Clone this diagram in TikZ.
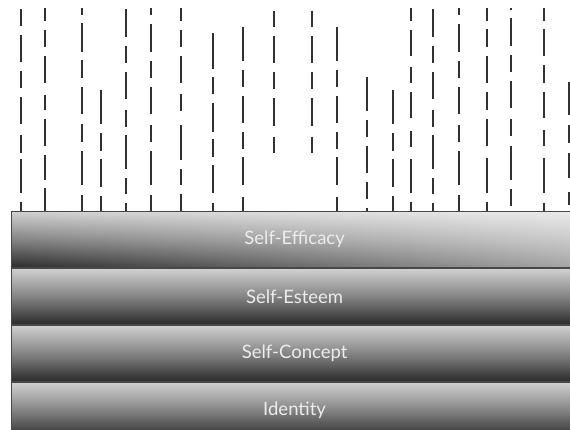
\documentclass[tikz,border=0pt]{standalone}
\usepackage{fontspec}
\newfontfamily\layerfont{Lato}
\usetikzlibrary{fadings}
\definecolor{dashgray}{RGB}{50,50,50}
\definecolor{edgegray}{RGB}{72,72,72}
\definecolor{toplight}{RGB}{208,208,208}
\definecolor{midgray}{RGB}{132,132,132}
\definecolor{botdark}{RGB}{44,44,44}
\definecolor{labeltext}{RGB}{236,236,236}

\begin{document}
\begin{tikzpicture}[x=1pt,y=-1pt,
  dashseg/.style={draw=dashgray,line width=1.8pt},
  layer/.style={draw=edgegray,line width=1.2pt,anchor=north west,minimum width=566pt,minimum height=55.7pt,inner sep=0pt,
    font=\layerfont\fontsize{18.5}{22}\selectfont,text=labeltext,
    top color=toplight,bottom color=botdark,middle color=midgray},
  glow/.style={path picture={\fill[white,opacity=.58,path fading=west] (path picture bounding box.south west) rectangle (path picture bounding box.north east);}}]
\useasboundingbox (0,0) rectangle (570,429);
\clip (0,0) rectangle (570,429);
\fill[white] (0,0) rectangle (570,429);
\foreach \x/\segs in {
  20.7/{9.3/26,35/61.7,71/88.3,96.7/124.3,135/153.3,159.3/193.3,201.7/211},
  44.7/{8.3/20.7,30/47.3,56/82.7,95/110,119.3/145.7,155/180,188.3/211},
  82.3/{8.3/15,23.3/51.7,60/78.3,86.7/114.3,124/141.7,151/185,195/211},
  100.7/{90/124,133.3/150.7,159.3/186.7,196/211},
  125.7/{9.3/36.7,46/62.7,71.7/99.3,110/126.7,135/169.3,178.3/194.3,203.3/211},
  151/{8.3/15,24/51.7,61/77.7,86.7/114,125/141.7,151/185,195/211},
  181.3/{8.3/20.7,30/46.7,56/83.3,94.3/110.7,125/160,169/185,194/211},
  212.7/{33.3/69.3,77.3/94,103.3/131.7,139.3/156.7,165/192.7,203.3/211},
  242.7/{26.7/61,70/86.7,95.7/123.3,131.7/149.3,157.3/185,196.7/211},
  274/{10.7/26.7,36/62.7,71.7/89.3,98.3/126,136.7/153.3},
  311.7/{10.7/26.7,36/62.7,71.7/89.3,98.3/126,136.7/153.3},
  336.7/{26.7/61,70/86.7,95.7/123.3,131.7/149.3,157.3/185,196.7/211},
  366.7/{76.7/110.7,120/136.7,145.7/173.3,181.7/199.3,208.3/211},
  393.3/{90/124,133.3/150.7,159.3/186.7,196/211},
  411/{8.3/20.7,30/56,66.7/82.7,91.7/118.3,131/146.7,159.3/193.3,201.7/211},
  433.3/{9.3/36.7,46/62.7,71.7/99.3,110/126.7,135/169.3,178.3/194.3,203.3/211},
  459.3/{8.3/15,24/51.7,61/77.7,86.7/114,125/141.7,151/185,195/211},
  487.3/{8.3/20.7,29.3/47.3,56/82.7,91.7/110,119.3/145.7,158.3/193.3,201.7/211},
  511/{8.3/10,18.3/46,55/71.7,80.7/108.3,119.3/136,146/180,189.3/206},
  544.3/{8.3/20.7,29.3/56,65/82.7,91.7/118.3,130/146,158.3/193.3,203.3/211},
  569.3/{81.7/115,125/143,153/178,192/205}}
  {\foreach \a/\b in \segs \draw[dashseg] (\x,\a) -- (\x,\b);}
\node[layer,glow] (efficacy) at (11,211) {Self-Efficacy};
\node[layer] (esteem) at (efficacy.south west) {Self-Esteem};
\node[layer] (concept) at (esteem.south west) {Self-Concept};
\node[layer] (identity) at (concept.south west) {Identity};
\end{tikzpicture}
\end{document}
